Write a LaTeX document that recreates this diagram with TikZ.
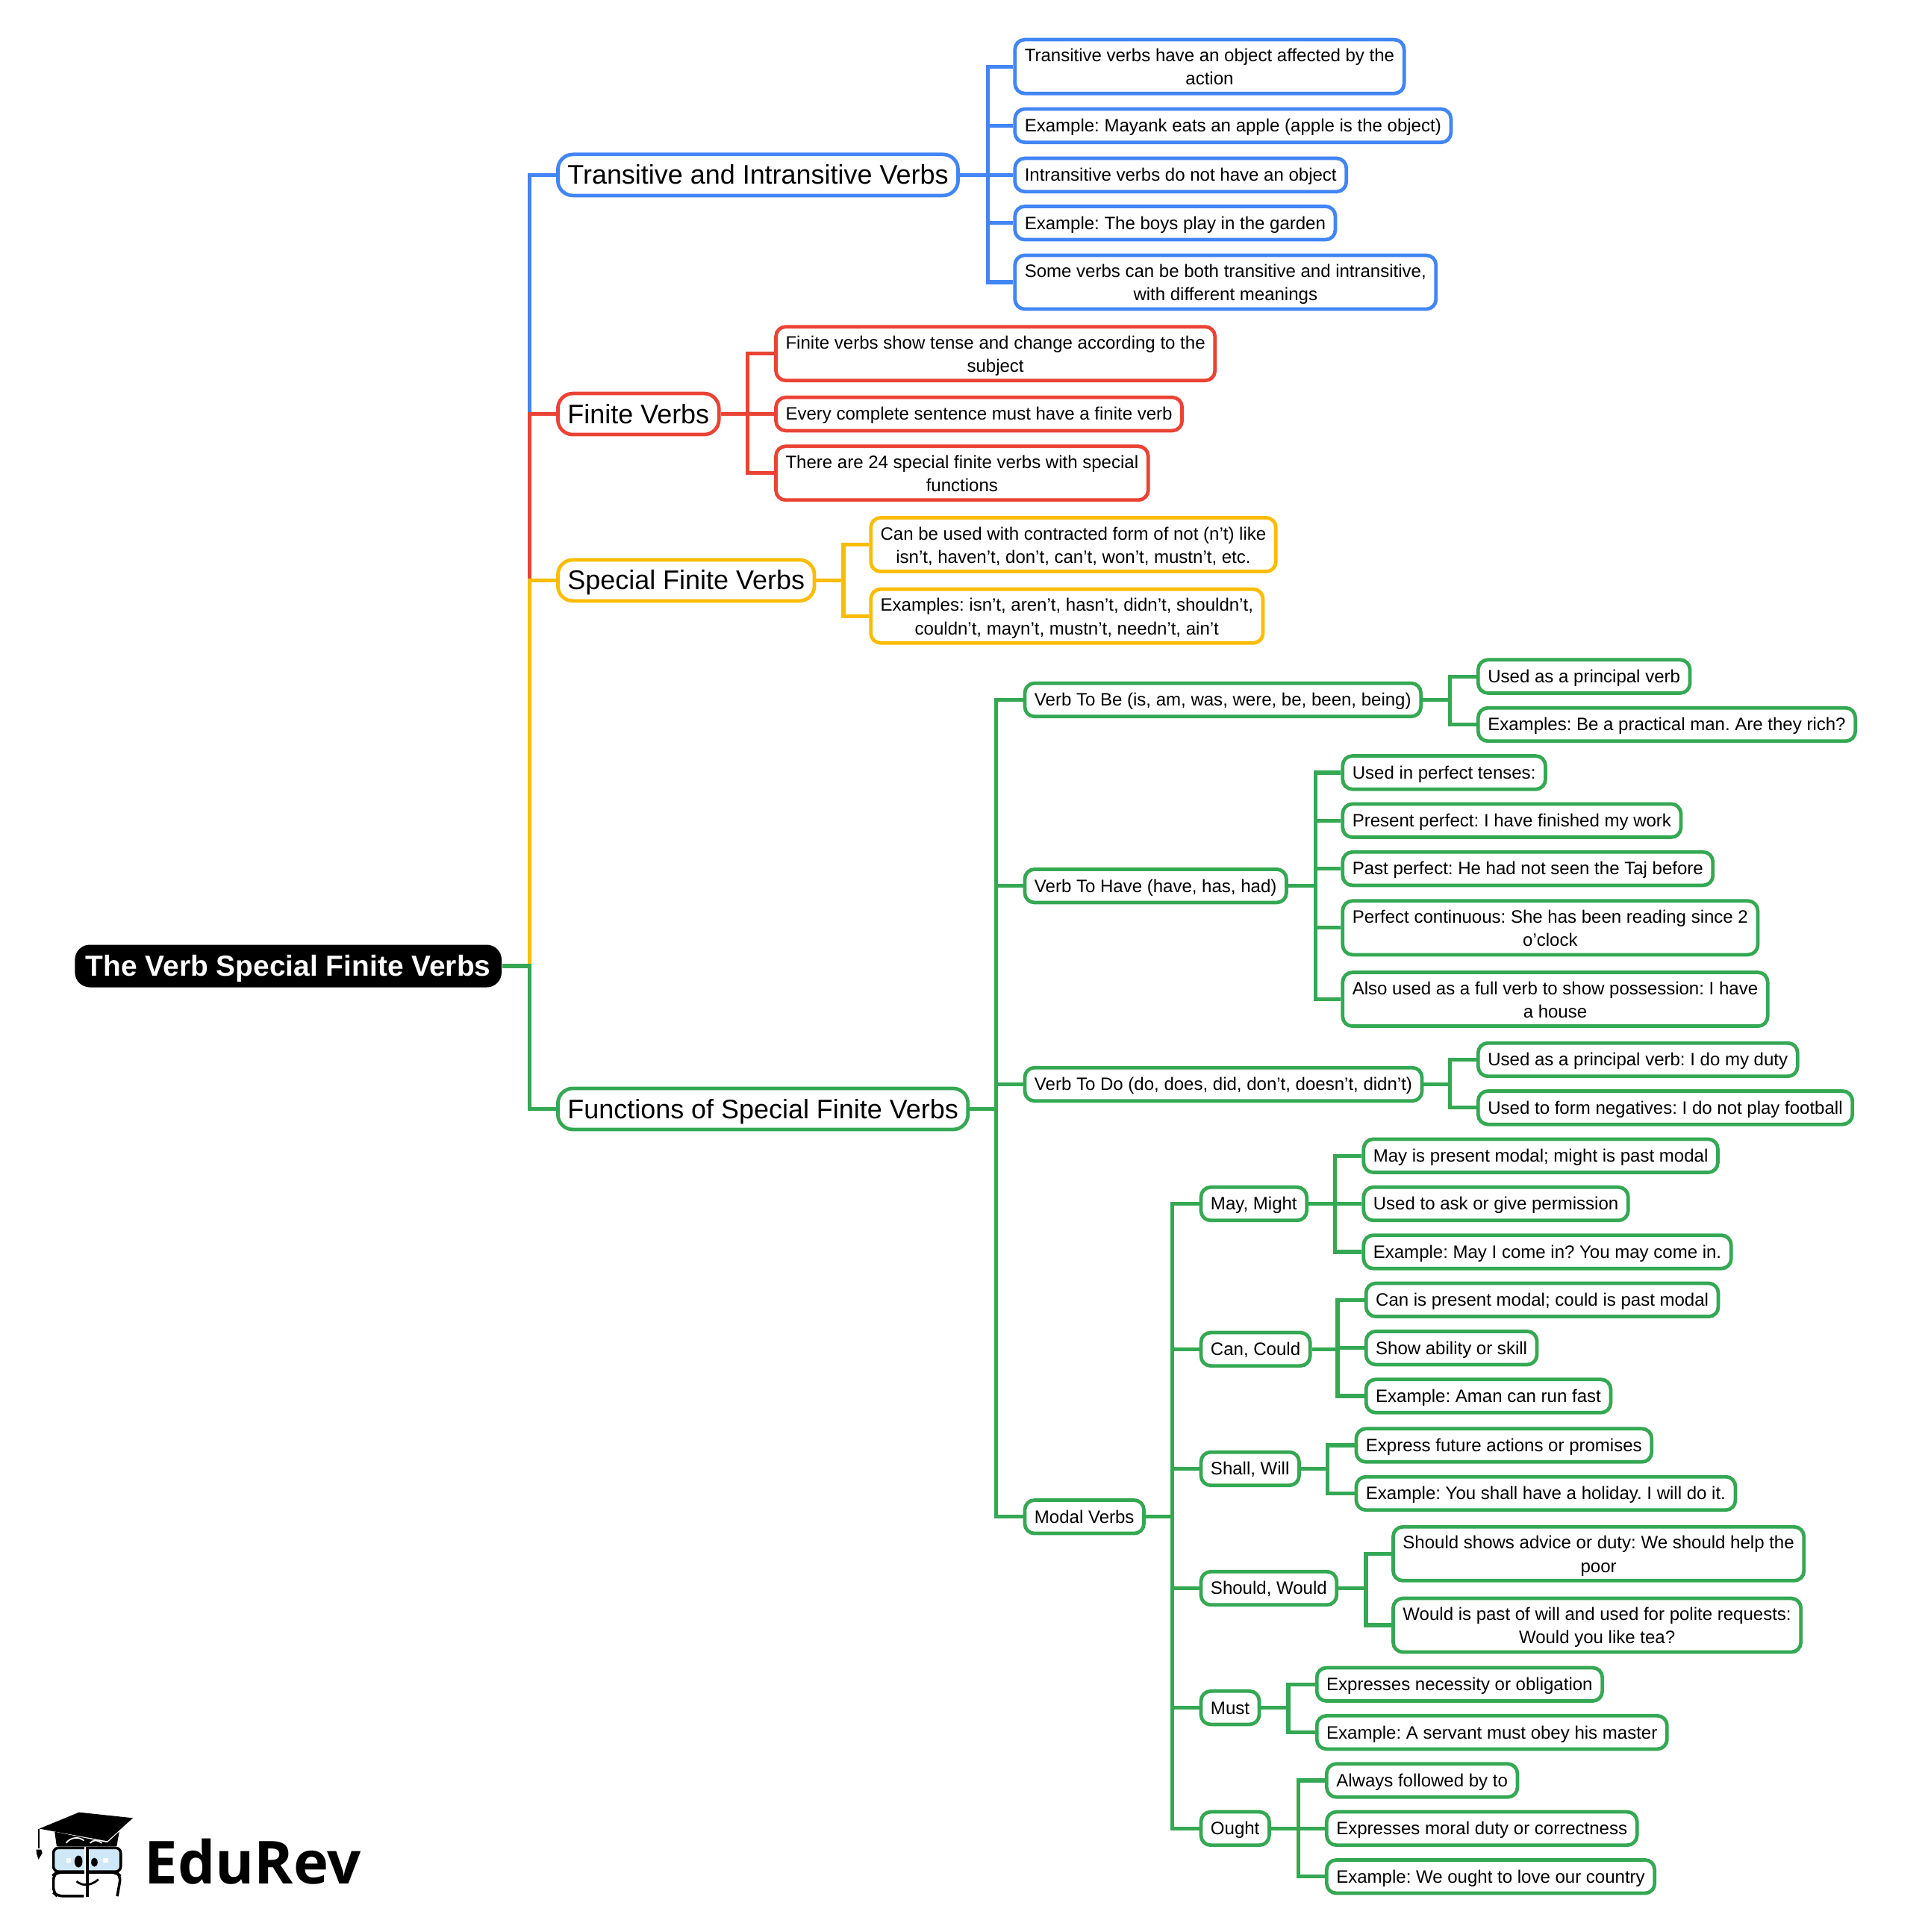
\documentclass[tikz,border=0pt]{standalone}
\usepackage{fontspec}
\setmainfont{Liberation Sans}
\newfontfamily\logofont{Open Sans}
\frenchspacing
\definecolor{rootBlack}{HTML}{000000}
\definecolor{mapBlue}{HTML}{4285F4}
\definecolor{mapRed}{HTML}{EA4335}
\definecolor{mapYellow}{HTML}{FBBC04}
\definecolor{mapGreen}{HTML}{34A853}
\definecolor{lensBlue}{HTML}{CFE8F8}
\begin{document}
\begin{tikzpicture}[x=0.0165cm, y=-0.0165cm,
    rootStyle/.style={fill=rootBlack, text=white, rounded corners=0.2cm, anchor=west, xshift=-0.01cm, inner xsep=0.145cm, inner ysep=0pt, minimum height=0.57cm, font=\fontsize{11.06}{14}\selectfont\bfseries, text height=2ex, text depth=.5ex},
    mainStyle/.style={draw=#1, fill=white, line width=1.35pt, rounded corners=0.2cm, anchor=west, xshift=-0.01cm, inner xsep=0.13cm, inner ysep=0pt, minimum height=0.55cm, font=\fontsize{10.22}{13}\selectfont, text height=1.9ex, text depth=.55ex},
    leafStyle/.style={draw=#1, fill=white, line width=1.35pt, rounded corners=0.13cm, anchor=west, xshift=-0.01cm, inner xsep=0.13cm, inner ysep=0pt, minimum height=0.41cm, font=\fontsize{6.83}{8.9}\selectfont, text height=1.65ex, text depth=.75ex},
    tallStyle/.style={draw=#1, fill=white, line width=1.35pt, rounded corners=0.13cm, anchor=west, xshift=-0.01cm, inner xsep=0.13cm, inner ysep=0pt, minimum height=0.72cm, font=\fontsize{6.83}{8.9}\selectfont, align=center, execute at begin node={\rule{0pt}{15.8pt}}, execute at end node={\rule[-1.7pt]{0pt}{1.7pt}}},
    linkStyle/.style={draw=#1, line width=1.5pt}]
    \useasboundingbox (0,0) rectangle (1567,1568);

    \node[rootStyle](root) at (61, 784) {The Verb Special Finite Verbs};
    \node[mainStyle=mapBlue](transitive) at (452, 142) {Transitive and Intransitive Verbs};
    \node[mainStyle=mapRed](finite) at (452, 336) {Finite Verbs};
    \node[mainStyle=mapYellow](special) at (452, 471) {Special Finite Verbs};
    \node[mainStyle=mapGreen](functions) at (452, 900) {Functions of Special Finite Verbs};

    \node[tallStyle=mapBlue](t1) at (823, 54) {Transitive verbs have an object affected by the\\action};
    \node[leafStyle=mapBlue](t2) at (823, 102) {Example: Mayank eats an apple (apple is the object)};
    \node[leafStyle=mapBlue](t3) at (823, 142) {Intransitive verbs do not have an object};
    \node[leafStyle=mapBlue](t4) at (823, 181) {Example: The boys play in the garden};
    \node[tallStyle=mapBlue](t5) at (823, 229) {Some verbs can be both transitive and intransitive,\\with different meanings};

    \node[tallStyle=mapRed](f1) at (629, 287) {Finite verbs show tense and change according to the\\subject};
    \node[leafStyle=mapRed](f2) at (629, 336) {Every complete sentence must have a finite verb};
    \node[tallStyle=mapRed](f3) at (629, 384) {There are 24 special finite verbs with special\\functions};

    \node[tallStyle=mapYellow](s1) at (706, 442) {Can be used with contracted form of not (n’t) like\\isn’t, haven’t, don’t, can’t, won’t, mustn’t, etc.};
    \node[tallStyle=mapYellow](s2) at (706, 500) {Examples: isn’t, aren’t, hasn’t, didn’t, shouldn’t,\\couldn’t, mayn’t, mustn’t, needn’t, ain’t};

    \node[leafStyle=mapGreen](toBe) at (831, 568) {Verb To Be (is, am, was, were, be, been, being)};
    \node[leafStyle=mapGreen](toHave) at (831, 719) {Verb To Have (have, has, had)};
    \node[leafStyle=mapGreen](toDo) at (831, 880) {Verb To Do (do, does, did, don’t, doesn’t, didn’t)};
    \node[leafStyle=mapGreen](modal) at (831, 1231) {Modal Verbs};

    \node[leafStyle=mapGreen](be1) at (1199, 549) {Used as a principal verb};
    \node[leafStyle=mapGreen](be2) at (1199, 588) {Examples: Be a practical man. Are they rich?};

    \node[leafStyle=mapGreen](have1) at (1089, 627) {Used in perfect tenses:};
    \node[leafStyle=mapGreen](have2) at (1089, 666) {Present perfect: I have finished my work};
    \node[leafStyle=mapGreen](have3) at (1089, 705) {Past perfect: He had not seen the Taj before};
    \node[tallStyle=mapGreen](have4) at (1089, 753) {Perfect continuous: She has been reading since 2\\o’clock};
    \node[tallStyle=mapGreen](have5) at (1089, 811) {Also used as a full verb to show possession: I have\\a house};

    \node[leafStyle=mapGreen](do1) at (1199, 860) {Used as a principal verb: I do my duty};
    \node[leafStyle=mapGreen](do2) at (1199, 899) {Used to form negatives: I do not play football};

    \node[leafStyle=mapGreen](may) at (974, 977) {May, Might};
    \node[leafStyle=mapGreen](can) at (974, 1095) {Can, Could};
    \node[leafStyle=mapGreen](shall) at (974, 1192) {Shall, Will};
    \node[leafStyle=mapGreen](should) at (974, 1289) {Should, Would};
    \node[leafStyle=mapGreen](must) at (974, 1386) {Must};
    \node[leafStyle=mapGreen](ought) at (974, 1484) {Ought};

    \node[leafStyle=mapGreen](may1) at (1106, 938) {May is present modal; might is past modal};
    \node[leafStyle=mapGreen](may2) at (1106, 977) {Used to ask or give permission};
    \node[leafStyle=mapGreen](may3) at (1106, 1016) {Example: May I come in? You may come in.};

    \node[leafStyle=mapGreen](can1) at (1108, 1055) {Can is present modal; could is past modal};
    \node[leafStyle=mapGreen](can2) at (1108, 1094) {Show ability or skill};
    \node[leafStyle=mapGreen](can3) at (1108, 1133) {Example: Aman can run fast};

    \node[leafStyle=mapGreen](shall1) at (1100, 1173) {Express future actions or promises};
    \node[leafStyle=mapGreen](shall2) at (1100, 1212) {Example: You shall have a holiday. I will do it.};

    \node[tallStyle=mapGreen](should1) at (1130, 1261) {Should shows advice or duty: We should help the\\poor};
    \node[tallStyle=mapGreen](should2) at (1130, 1319) {Would is past of will and used for polite requests:\\Would you like tea?};

    \node[leafStyle=mapGreen](must1) at (1068, 1367) {Expresses necessity or obligation};
    \node[leafStyle=mapGreen](must2) at (1068, 1406) {Example: A servant must obey his master};

    \node[leafStyle=mapGreen](ought1) at (1076, 1445) {Always followed by to};
    \node[leafStyle=mapGreen](ought2) at (1076, 1484) {Expresses moral duty or correctness};
    \node[leafStyle=mapGreen](ought3) at (1076, 1523) {Example: We ought to love our country};

    \coordinate (rootBus) at (429.7, 784);
    \coordinate (transitiveBus) at (801.7, 142);
    \coordinate (finiteBus) at (606.7, 336);
    \coordinate (specialBus) at (684.7, 471);
    \coordinate (functionsBus) at (808.7, 900);
    \coordinate (toBeBus) at (1176.7, 568);
    \coordinate (toHaveBus) at (1067.7, 719);
    \coordinate (toDoBus) at (1176.7, 880);
    \coordinate (modalBus) at (951.7, 1231);
    \coordinate (mayBus) at (1083.7, 977);
    \coordinate (canBus) at (1085.7, 1095);
    \coordinate (shallBus) at (1077.7, 1192);
    \coordinate (shouldBus) at (1108.7, 1289);
    \coordinate (mustBus) at (1045.7, 1386);
    \coordinate (oughtBus) at (1053.7, 1484);

    \draw[linkStyle=mapBlue] (root.east) -- (rootBus) |- (transitive.west);
    \draw[linkStyle=mapRed] (root.east) -- (rootBus) |- (finite.west);
    \draw[linkStyle=mapYellow] (root.east) -- (rootBus) |- (special.west);
    \draw[linkStyle=mapGreen] (root.east) -- (rootBus) |- (functions.west);

    \draw[linkStyle=mapBlue] (transitive.east) -- (transitiveBus) |- (t1.west);
    \draw[linkStyle=mapBlue] (transitive.east) -- (transitiveBus) |- (t2.west);
    \draw[linkStyle=mapBlue] (transitive.east) -- (transitiveBus) |- (t3.west);
    \draw[linkStyle=mapBlue] (transitive.east) -- (transitiveBus) |- (t4.west);
    \draw[linkStyle=mapBlue] (transitive.east) -- (transitiveBus) |- (t5.west);

    \draw[linkStyle=mapRed] (finite.east) -- (finiteBus) |- (f1.west);
    \draw[linkStyle=mapRed] (finite.east) -- (finiteBus) |- (f2.west);
    \draw[linkStyle=mapRed] (finite.east) -- (finiteBus) |- (f3.west);

    \draw[linkStyle=mapYellow] (special.east) -- (specialBus) |- (s1.west);
    \draw[linkStyle=mapYellow] (special.east) -- (specialBus) |- (s2.west);

    \draw[linkStyle=mapGreen] (functions.east) -- (functionsBus) |- (toBe.west);
    \draw[linkStyle=mapGreen] (functions.east) -- (functionsBus) |- (toHave.west);
    \draw[linkStyle=mapGreen] (functions.east) -- (functionsBus) |- (toDo.west);
    \draw[linkStyle=mapGreen] (functions.east) -- (functionsBus) |- (modal.west);

    \draw[linkStyle=mapGreen] (toBe.east) -- (toBeBus) |- (be1.west);
    \draw[linkStyle=mapGreen] (toBe.east) -- (toBeBus) |- (be2.west);

    \draw[linkStyle=mapGreen] (toHave.east) -- (toHaveBus) |- (have1.west);
    \draw[linkStyle=mapGreen] (toHave.east) -- (toHaveBus) |- (have2.west);
    \draw[linkStyle=mapGreen] (toHave.east) -- (toHaveBus) |- (have3.west);
    \draw[linkStyle=mapGreen] (toHave.east) -- (toHaveBus) |- (have4.west);
    \draw[linkStyle=mapGreen] (toHave.east) -- (toHaveBus) |- (have5.west);

    \draw[linkStyle=mapGreen] (toDo.east) -- (toDoBus) |- (do1.west);
    \draw[linkStyle=mapGreen] (toDo.east) -- (toDoBus) |- (do2.west);

    \draw[linkStyle=mapGreen] (modal.east) -- (modalBus) |- (may.west);
    \draw[linkStyle=mapGreen] (modal.east) -- (modalBus) |- (can.west);
    \draw[linkStyle=mapGreen] (modal.east) -- (modalBus) |- (shall.west);
    \draw[linkStyle=mapGreen] (modal.east) -- (modalBus) |- (should.west);
    \draw[linkStyle=mapGreen] (modal.east) -- (modalBus) |- (must.west);
    \draw[linkStyle=mapGreen] (modal.east) -- (modalBus) |- (ought.west);

    \draw[linkStyle=mapGreen] (may.east) -- (mayBus) |- (may1.west);
    \draw[linkStyle=mapGreen] (may.east) -- (mayBus) |- (may2.west);
    \draw[linkStyle=mapGreen] (may.east) -- (mayBus) |- (may3.west);

    \draw[linkStyle=mapGreen] (can.east) -- (canBus) |- (can1.west);
    \draw[linkStyle=mapGreen] (can.east) -- (canBus) |- (can2.west);
    \draw[linkStyle=mapGreen] (can.east) -- (canBus) |- (can3.west);

    \draw[linkStyle=mapGreen] (shall.east) -- (shallBus) |- (shall1.west);
    \draw[linkStyle=mapGreen] (shall.east) -- (shallBus) |- (shall2.west);

    \draw[linkStyle=mapGreen] (should.east) -- (shouldBus) |- (should1.west);
    \draw[linkStyle=mapGreen] (should.east) -- (shouldBus) |- (should2.west);

    \draw[linkStyle=mapGreen] (must.east) -- (mustBus) |- (must1.west);
    \draw[linkStyle=mapGreen] (must.east) -- (mustBus) |- (must2.west);

    \draw[linkStyle=mapGreen] (ought.east) -- (oughtBus) |- (ought1.west);
    \draw[linkStyle=mapGreen] (ought.east) -- (oughtBus) |- (ought2.west);
    \draw[linkStyle=mapGreen] (ought.east) -- (oughtBus) |- (ought3.west);

    \begin{scope}[shift={(0,1442.2)}, x=0.00333cm, y=-0.00333cm]
        \fill (318,142) -- (535,165) -- (432,258) -- (158,208) -- cycle;
        \fill (220,220) -- (432,264) -- (480,220) -- (470,278) -- (228,278) -- cycle;
        \draw[white, line width=0.5pt] (266,266) .. controls (285,240) and (320,240) .. (338,256);
        \draw[white, line width=0.5pt] (362,266) .. controls (375,252) and (395,252) .. (410,266);
        \draw[line width=0.6pt] (156,208) -- (156,288);
        \fill (146,292) -- (166,292) -- (170,306) -- (155,332) -- (147,308) -- cycle;
        \draw[fill=lensBlue, line width=1pt, rounded corners=0.07cm] (215,285) rectangle (486,381);
        \draw[line width=1pt, rounded corners=0.07cm] (338,479) -- (230,479) -- (215,465) -- (215,395) -- (228,384) -- (470,384) -- (486,400) -- (472,480);
        \draw[white, line width=1pt] (345,280) -- (345,482);
        \draw[line width=1.2pt] (352,280) -- (352,482);
        \fill (316,340) ellipse [x radius=16, y radius=24];
        \fill (380,343) ellipse [x radius=13, y radius=18];
        \fill[white] (268,326) rectangle (286,345);
        \fill[white] (416,326) rectangle (436,345);
        \draw[line width=0.8pt] (308,420) .. controls (335,442) and (370,436) .. (396,412);
    \end{scope}
    \node[anchor=west, inner sep=0pt, font=\logofont\bfseries\fontsize{22.6}{28}\selectfont](logoText) at (117, 1511) {EduRev};
\end{tikzpicture}
\end{document}
